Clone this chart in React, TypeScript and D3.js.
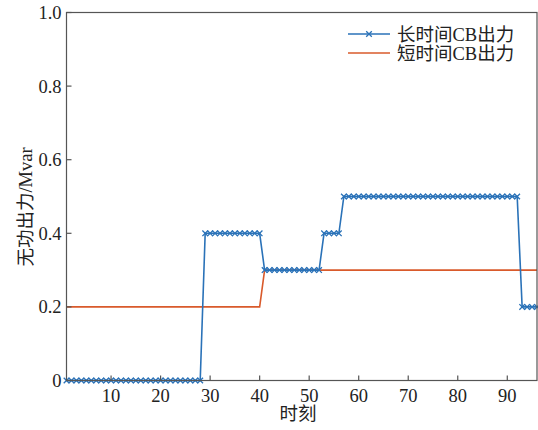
import React from "react";
import * as d3 from "d3";

const times: number[] = [
  1, 2, 3, 4, 5, 6, 7, 8, 9, 10, 11, 12, 13, 14, 15, 16, 17, 18, 19, 20, 21, 22, 23, 24,
  25, 26, 27, 28, 29, 30, 31, 32, 33, 34, 35, 36, 37, 38, 39, 40, 41, 42, 43, 44, 45, 46, 47, 48,
  49, 50, 51, 52, 53, 54, 55, 56, 57, 58, 59, 60, 61, 62, 63, 64, 65, 66, 67, 68, 69, 70, 71, 72,
  73, 74, 75, 76, 77, 78, 79, 80, 81, 82, 83, 84, 85, 86, 87, 88, 89, 90, 91, 92, 93, 94, 95, 96,
];

const longCB: number[] = [
  0, 0, 0, 0, 0, 0, 0, 0, 0, 0, 0, 0, 0, 0, 0, 0, 0, 0, 0, 0, 0, 0, 0, 0,
  0, 0, 0, 0, 0.4, 0.4, 0.4, 0.4, 0.4, 0.4, 0.4, 0.4, 0.4, 0.4, 0.4, 0.4, 0.3, 0.3, 0.3, 0.3, 0.3, 0.3, 0.3, 0.3,
  0.3, 0.3, 0.3, 0.3, 0.4, 0.4, 0.4, 0.4, 0.5, 0.5, 0.5, 0.5, 0.5, 0.5, 0.5, 0.5, 0.5, 0.5, 0.5, 0.5, 0.5, 0.5, 0.5, 0.5,
  0.5, 0.5, 0.5, 0.5, 0.5, 0.5, 0.5, 0.5, 0.5, 0.5, 0.5, 0.5, 0.5, 0.5, 0.5, 0.5, 0.5, 0.5, 0.5, 0.5, 0.2, 0.2, 0.2, 0.2,
];

const shortCB: number[] = [
  0.2, 0.2, 0.2, 0.2, 0.2, 0.2, 0.2, 0.2, 0.2, 0.2, 0.2, 0.2, 0.2, 0.2, 0.2, 0.2, 0.2, 0.2, 0.2, 0.2, 0.2, 0.2, 0.2, 0.2,
  0.2, 0.2, 0.2, 0.2, 0.2, 0.2, 0.2, 0.2, 0.2, 0.2, 0.2, 0.2, 0.2, 0.2, 0.2, 0.2, 0.3, 0.3, 0.3, 0.3, 0.3, 0.3, 0.3, 0.3,
  0.3, 0.3, 0.3, 0.3, 0.3, 0.3, 0.3, 0.3, 0.3, 0.3, 0.3, 0.3, 0.3, 0.3, 0.3, 0.3, 0.3, 0.3, 0.3, 0.3, 0.3, 0.3, 0.3, 0.3,
  0.3, 0.3, 0.3, 0.3, 0.3, 0.3, 0.3, 0.3, 0.3, 0.3, 0.3, 0.3, 0.3, 0.3, 0.3, 0.3, 0.3, 0.3, 0.3, 0.3, 0.3, 0.3, 0.3, 0.3,
];

const xTicks: number[] = [10, 20, 30, 40, 50, 60, 70, 80, 90];
const yTicks: number[] = [0, 0.2, 0.4, 0.6, 0.8, 1.0];
const yTickLabels: string[] = ["0", "0.2", "0.4", "0.6", "0.8", "1.0"];
const seriesNames: string[] = ["长时间CB出力", "短时间CB出力"];
const xLabel = "时刻";
const yLabel = "无功出力/Mvar";

const W = 538;
const H = 430;
const L = 66.5;
const R = 537;
const T = 12.5;
const B = 380.5;

const BLUE = "#2a72b8";
const ORANGE = "#d95a2b";
const AXIS = "#555";
const TEXT = "#222";
const FONT = "'Liberation Serif', 'Noto Sans CJK SC', serif";

export default function App() {
  const x = d3.scaleLinear().domain([1, 96]).range([L, R]);
  const y = d3.scaleLinear().domain([0, 1]).range([B, T]);

  const longPts: [number, number][] = times.map((t, i) => [t, longCB[i]]);
  const shortPts: [number, number][] = times.map((t, i) => [t, shortCB[i]]);

  const line = d3
    .line<[number, number]>()
    .x((d) => x(d[0]))
    .y((d) => y(d[1]));

  const m = 2.8;
  const cross = (cx: number, cy: number, key: string | number) => (
    <path
      key={key}
      d={`M${cx - m},${cy - m}L${cx + m},${cy + m}M${cx - m},${cy + m}L${cx + m},${cy - m}`}
      stroke={BLUE}
      strokeWidth={1.3}
      fill="none"
    />
  );

  return (
    <svg
      width={W}
      height={H}
      style={{ position: "absolute", left: 0, top: 0, background: "#fff" }}
      fontFamily={FONT}
    >
      <defs>
        <clipPath id="plotclip">
          <rect x={L - 4} y={T - 4} width={R - L + 8} height={B - T + 8} />
        </clipPath>
      </defs>
      <rect x={0} y={0} width={W} height={H} fill="#fff" />

      {/* data */}
      <g clipPath="url(#plotclip)">
        <path d={line(shortPts) || ""} fill="none" stroke={ORANGE} strokeWidth={1.6} />
        <path d={line(longPts) || ""} fill="none" stroke={BLUE} strokeWidth={1.6} />
        {longPts.map((d, i) => cross(x(d[0]), y(d[1]), i))}
      </g>

      {/* frame */}
      <rect x={L} y={T} width={R - L} height={B - T} fill="none" stroke={AXIS} strokeWidth={1.2} />

      {/* x ticks */}
      {xTicks.map((t) => (
        <g key={"xt" + t}>
          <line x1={x(t)} x2={x(t)} y1={B} y2={B - 5} stroke={AXIS} strokeWidth={1.2} />
          <text x={x(t)} y={B + 21} textAnchor="middle" fontSize={18.5} fill={TEXT}>
            {t}
          </text>
        </g>
      ))}

      {/* y ticks */}
      {yTicks.map((t, i) => (
        <g key={"yt" + t}>
          <line x1={L} x2={L + 5} y1={y(t)} y2={y(t)} stroke={AXIS} strokeWidth={1.2} />
          <text x={L - 5} y={y(t) + 6.5} textAnchor="end" fontSize={18.5} fill={TEXT}>
            {yTickLabels[i]}
          </text>
        </g>
      ))}

      {/* axis labels */}
      <text x={298} y={420} textAnchor="middle" fontSize={18.5} fill={TEXT}>
        {xLabel}
      </text>
      <text
        transform={`translate(32, 207) rotate(-90)`}
        textAnchor="middle"
        fontSize={18.5}
        fill={TEXT}
      >
        {yLabel}
      </text>

      {/* legend */}
      <g>
        <line x1={348} x2={390} y1={34} y2={34} stroke={BLUE} strokeWidth={1.6} />
        {cross(369, 34, "lg")}
        <text x={397} y={40.5} fontSize={18.5} fill={TEXT}>
          {seriesNames[0]}
        </text>
        <line x1={348} x2={390} y1={53} y2={53} stroke={ORANGE} strokeWidth={1.6} />
        <text x={397} y={59.5} fontSize={18.5} fill={TEXT}>
          {seriesNames[1]}
        </text>
      </g>
    </svg>
  );
}
